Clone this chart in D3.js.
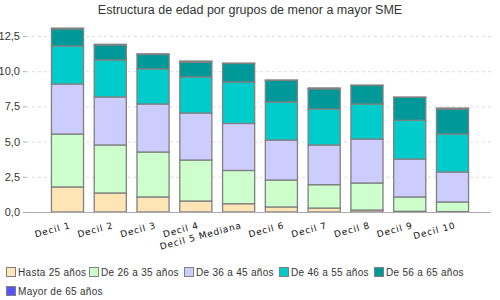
<!DOCTYPE html>
<html>
<head>
<meta charset="utf-8">
<script src="https://cdn.jsdelivr.net/npm/d3@7"></script>
<style>
  body { margin: 0; background: #fff; }
  svg { font-family: "DejaVu Sans", Verdana, sans-serif; }
</style>
</head>
<body>
<svg id="chart" width="500" height="300"></svg>
<script>
// --- DATA ---
const categories = ['Decil 1', 'Decil 2', 'Decil 3', 'Decil 4', 'Decil 5 Mediana', 'Decil 6', 'Decil 7', 'Decil 8', 'Decil 9', 'Decil 10'];
const seriesNames = ['Hasta 25 años', 'De 26 a 35 años', 'De 36 a 45 años', 'De 46 a 55 años', 'De 56 a 65 años', 'Mayor de 65 años'];
const hasta25 = [1.78, 1.35, 1.07, 0.78, 0.59, 0.36, 0.28, 0.14, 0.05, 0.03];
const de26a35 = [3.76, 3.41, 3.19, 2.91, 2.36, 1.91, 1.66, 1.92, 1.02, 0.68];
const de36a45 = [3.55, 3.41, 3.41, 3.34, 3.34, 2.84, 2.82, 3.12, 2.69, 2.13];
const de46a55 = [2.70, 2.63, 2.49, 2.56, 2.94, 2.70, 2.55, 2.49, 2.75, 2.70];
const de56a65 = [1.21, 1.06, 1.03, 1.04, 1.32, 1.54, 1.43, 1.32, 1.63, 1.77];
const mayor65 = [0.06, 0.05, 0.04, 0.09, 0.02, 0.02, 0.07, 0.02, 0.02, 0.07];
const yTicks = [0, 2.5, 5, 7.5, 10, 12.5];
const colors = ['#FFE4B5', '#CCFFCC', '#CCCCFF', '#00CCCC', '#009999', '#5555FF'];

const seriesValues = [hasta25, de26a35, de36a45, de46a55, de56a65, mayor65];
const table = categories.map((c, i) => {
    const row = { cat: c };
    seriesNames.forEach((s, j) => { row[s] = seriesValues[j][i]; });
    return row;
});

const svg = d3.select('#chart');

// title
svg.append('text')
    .attr('x', 250).attr('y', 14)
    .attr('text-anchor', 'middle')
    .style('font-family', 'Arial, "Liberation Sans", sans-serif')
    .style('font-size', '12.5px')
    .attr('fill', '#333')
    .text('Estructura de edad por grupos de menor a mayor SME');

const x = d3.scaleBand()
    .domain(categories)
    .range([45.6, 473.4])
    .paddingInner(0.25)
    .paddingOuter(0.125);

const y = d3.scaleLinear()
    .domain([0, 12.5])
    .range([212, 36]);

// grid
svg.append('g')
    .selectAll('line')
    .data(yTicks.filter(d => d > 0))
    .enter().append('line')
    .attr('x1', 26).attr('x2', 491)
    .attr('y1', d => y(d) + 0.5).attr('y2', d => y(d) + 0.5)
    .attr('stroke', '#ddd')
    .attr('stroke-dasharray', '3,3');

// y axis labels
const yAxis = svg.append('g')
    .attr('transform', 'translate(26,0)')
    .call(d3.axisLeft(y).tickValues(yTicks).tickSize(3).tickFormat(d => d3.format('.1f')(d).replace('.', ',')));
yAxis.select('.domain').remove();
yAxis.selectAll('.tick line').attr('stroke', '#aaa');
yAxis.selectAll('.tick text')
    .style('font-family', 'Arial, "Liberation Sans", sans-serif')
    .style('font-size', '11px')
    .attr('fill', '#333');

// stacked bars
const stack = d3.stack().keys(seriesNames)(table);
svg.append('g')
    .selectAll('g')
    .data(stack)
    .enter().append('g')
    .attr('fill', (d, i) => colors[i])
    .selectAll('rect')
    .data(d => d)
    .enter().append('rect')
    .attr('x', d => x(d.data.cat) + 0.5)
    .attr('y', d => y(d[1]))
    .attr('width', x.bandwidth())
    .attr('height', d => Math.max(0, y(d[0]) - y(d[1])))
    .attr('stroke', '#808080')
    .attr('stroke-width', 1.3);

// x baseline
svg.append('line')
    .attr('x1', 26).attr('x2', 491)
    .attr('y1', 212.5).attr('y2', 212.5)
    .attr('stroke', '#aaa');

// x labels
svg.append('g')
    .selectAll('text')
    .data(categories)
    .enter().append('text')
    .attr('transform', d => `translate(${x(d) + x.bandwidth() / 2 + 4},228) rotate(-15)`)
    .attr('text-anchor', 'end')
    .style('font-size', '9px')
    .style('letter-spacing', '0.8px')
    .attr('fill', '#111')
    .text(d => d);

// legend
const legendPos = [[6, 267], [89, 267], [184, 267], [279, 267], [374, 267], [6, 286]];
const legend = svg.append('g')
    .selectAll('g')
    .data(seriesNames)
    .enter().append('g')
    .attr('transform', (d, i) => `translate(${legendPos[i][0]},${legendPos[i][1]})`);
legend.append('rect')
    .attr('x', 0.5).attr('y', 0.5)
    .attr('width', 9).attr('height', 9)
    .attr('fill', (d, i) => colors[i])
    .attr('stroke', '#808080');
legend.append('text')
    .attr('x', 12).attr('y', 9)
    .style('font-family', 'Arial, "Liberation Sans", sans-serif')
    .style('font-size', '10px')
    .style('letter-spacing', '0.3px')
    .attr('fill', '#333')
    .text(d => d);
</script>
</body>
</html>
